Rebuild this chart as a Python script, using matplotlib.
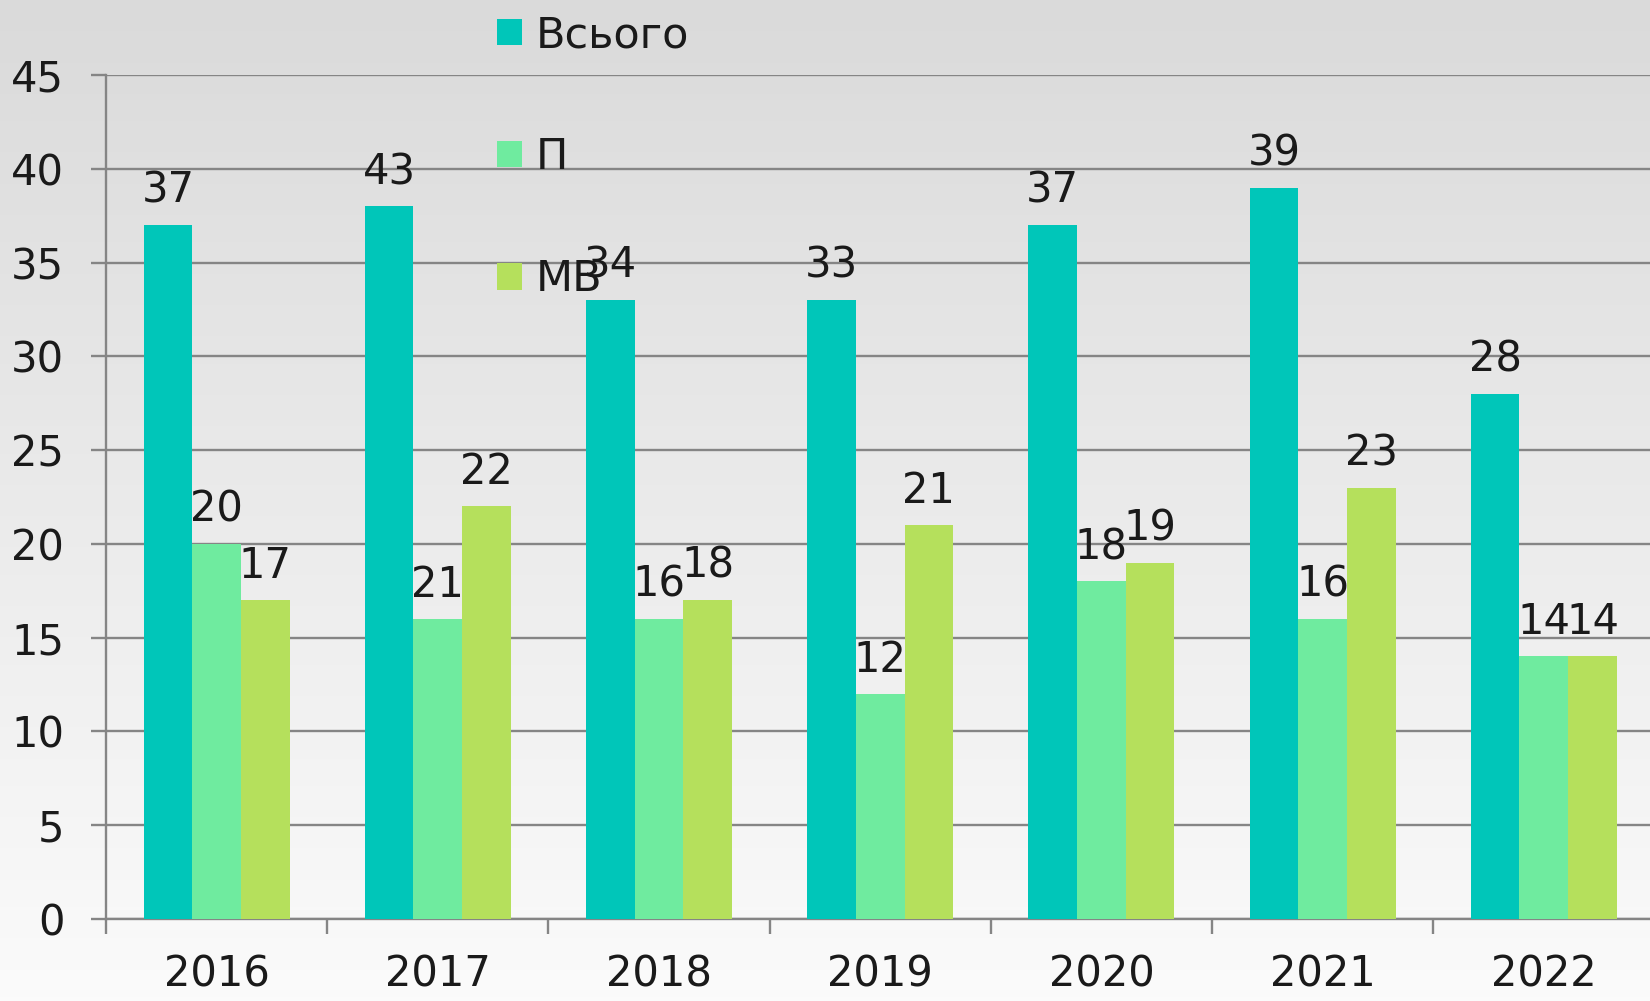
import matplotlib
matplotlib.use('Agg')
import matplotlib.pyplot as plt
import numpy as np
from matplotlib.colors import LinearSegmentedColormap

years = ['2016', '2017', '2018', '2019', '2020', '2021', '2022']
series_names = ['Всього', 'П', 'МВ']
# bar heights as drawn
total = [37, 38, 33, 33, 37, 39, 28]
p_vals = [20, 16, 16, 12, 18, 16, 14]
mv_vals = [17, 22, 17, 21, 19, 23, 14]
# data labels as printed (do not always match bar heights in the source)
total_labels = ['37', '43', '34', '33', '37', '39', '28']
p_labels = ['20', '21', '16', '12', '18', '16', '14']
mv_labels = ['17', '22', '18', '21', '19', '23', '14']
colors = ['#00C6B9', '#6FEB9F', '#B5E05C']

plt.rcParams['font.family'] = ['DejaVu Sans']

fig = plt.figure(figsize=(16.5, 10.01), dpi=100)

# gray-to-white background gradient
bg = fig.add_axes([0, 0, 1, 1], zorder=-10)
grad = np.linspace(0, 1, 256).reshape(-1, 1)
cmap = LinearSegmentedColormap.from_list('bg', ['#dadada', '#fbfbfb'])
bg.imshow(grad, aspect='auto', cmap=cmap, extent=[0, 1, 0, 1], origin='upper')
bg.axis('off')

ax = fig.add_axes([0.0642, 0.082, 0.9358, 0.843])
ax.patch.set_alpha(0)

x = np.arange(len(years))
w = 0.22
all_vals = [total, p_vals, mv_vals]
all_labels = [total_labels, p_labels, mv_labels]
handles = []
for i, (vals, labs) in enumerate(zip(all_vals, all_labels)):
    pos = x + (i - 1) * w
    b = ax.bar(pos, vals, width=w, color=colors[i], label=series_names[i], zorder=3)
    handles.append(b)
    for px, v, lab in zip(pos, vals, labs):
        ax.annotate(lab, (px, v), xytext=(0, 16), textcoords='offset points',
                    ha='center', va='baseline', fontsize=30, color='#1a1a1a', zorder=5)

ax.set_ylim(0, 45)
ax.set_xlim(-0.5, 6.48)
ax.set_yticks(np.arange(0, 46, 5))
ax.set_xticks(x)
ax.set_xticklabels(years)
ax.set_xticks(np.arange(-0.5, 6.5, 1), minor=True)
ax.yaxis.grid(True, color='#858585', linewidth=1.7, zorder=0)
ax.set_axisbelow(True)
for s in ['top', 'right']:
    ax.spines[s].set_visible(False)
for s in ['left', 'bottom']:
    ax.spines[s].set_color('#858585')
    ax.spines[s].set_linewidth(1.7)
ax.tick_params(axis='y', length=11, width=1.7, color='#858585', pad=19,
               labelsize=30, labelcolor='#1a1a1a')
ax.tick_params(axis='x', which='major', length=0, pad=25,
               labelsize=30, labelcolor='#1a1a1a')
ax.tick_params(axis='x', which='minor', length=11, width=1.7, color='#858585')

leg = fig.legend(handles=handles, labels=series_names, loc='upper left',
                 bbox_to_anchor=(0.291, 1.003), frameon=False, fontsize=31,
                 handlelength=0.58, handleheight=0.58, handletextpad=0.3,
                 labelspacing=1.86, borderaxespad=0)
for t in leg.get_texts():
    t.set_color('#1a1a1a')

fig.savefig('out.png', dpi=100)
